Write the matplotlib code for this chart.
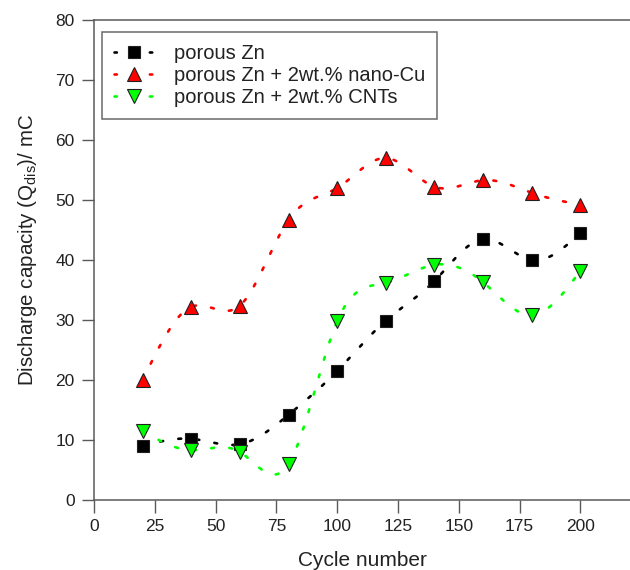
import numpy as np
import matplotlib
matplotlib.use("Agg")
import matplotlib.pyplot as plt
from matplotlib.lines import Line2D

plt.rcParams['font.family'] = ['Liberation Sans', 'DejaVu Sans']

cycles = [20, 40, 60, 80, 100, 120, 140, 160, 180, 200]
porous_zn = [9.0, 10.2, 9.3, 14.2, 21.5, 29.9, 36.5, 43.5, 40.0, 44.5]
zn_nano_cu = [20.0, 32.2, 32.4, 46.7, 52.0, 57.0, 52.2, 53.3, 51.2, 49.2]
zn_cnts = [11.5, 8.3, 8.0, 6.0, 29.8, 36.2, 39.2, 36.3, 30.8, 38.2]

labels = ["porous Zn", "porous Zn + 2wt.% nano-Cu", "porous Zn + 2wt.% CNTs"]
colors = ["#000000", "#ff0000", "#00ff00"]
markers = ["s", "^", "v"]


def natural_spline(x, y, n=400):
    x = np.asarray(x, float)
    y = np.asarray(y, float)
    m = len(x)
    h = np.diff(x)
    A = np.zeros((m, m))
    r = np.zeros(m)
    A[0, 0] = A[-1, -1] = 1.0
    for i in range(1, m - 1):
        A[i, i - 1] = h[i - 1]
        A[i, i] = 2 * (h[i - 1] + h[i])
        A[i, i + 1] = h[i]
        r[i] = 3 * ((y[i + 1] - y[i]) / h[i] - (y[i] - y[i - 1]) / h[i - 1])
    c = np.linalg.solve(A, r)
    b = np.diff(y) / h - h * (2 * c[:-1] + c[1:]) / 3
    d = np.diff(c) / (3 * h)
    xs = np.linspace(x[0], x[-1], n)
    idx = np.clip(np.searchsorted(x, xs) - 1, 0, m - 2)
    t = xs - x[idx]
    ys = y[idx] + b[idx] * t + c[idx] * t ** 2 + d[idx] * t ** 3
    return xs, ys


fig = plt.figure(figsize=(6.3, 5.7), dpi=100)
ax = fig.add_axes([94 / 630, 70 / 570, 1 - 94 / 630, 480 / 570])

LW = 1.9
handles = []
for ys, col, mk, lab in zip([porous_zn, zn_nano_cu, zn_cnts], colors, markers, labels):
    sx, sy = natural_spline(cycles, ys)
    ax.plot(sx, sy, color=col, lw=LW, dashes=(1.1, 5.8), dash_capstyle='round', zorder=2)
    ms = 9 if mk == "s" else 10
    ax.plot(cycles, ys, linestyle='none', marker=mk, ms=ms, mfc=col,
            mec='#202020', mew=0.8, zorder=3)
    handles.append(Line2D([], [], color=col, lw=LW, dashes=(0.9, 12.5),
                          dash_capstyle='round', marker=mk, ms=ms, mfc=col,
                          mec='#202020', mew=0.8))

ax.set_xlim(0, 220.4)
ax.set_ylim(0, 80)
ax.set_xticks([0, 25, 50, 75, 100, 125, 150, 175, 200])
ax.set_yticks(range(0, 81, 10))
ax.spines['right'].set_visible(False)
for s in ax.spines.values():
    s.set_color('#5a5a5a')
    s.set_linewidth(1.1)
ax.tick_params(direction='out', length=9, width=1.0, color='#5a5a5a',
               labelsize=12.5, labelcolor='#222222', pad=5)

ax.set_xlabel("Cycle number", fontsize=15, color='#222222', labelpad=12)
ax.set_ylabel(r"Discharge capacity (Q$_{\mathregular{dis}}$)/ mC", fontsize=14.8,
              color='#222222')
ax.yaxis.set_label_coords(-0.102, 0.52)

leg = ax.legend(handles, labels, loc='upper left', bbox_to_anchor=(0.015, 0.975),
                borderaxespad=0, fontsize=14.5, frameon=True, fancybox=False,
                handlelength=2.0, handletextpad=0.95, borderpad=0.6,
                labelspacing=0.15, edgecolor='#444444')
leg.get_frame().set_linewidth(1.1)
for t in leg.get_texts():
    t.set_color('#222222')

fig.savefig("out.png", dpi=100)
